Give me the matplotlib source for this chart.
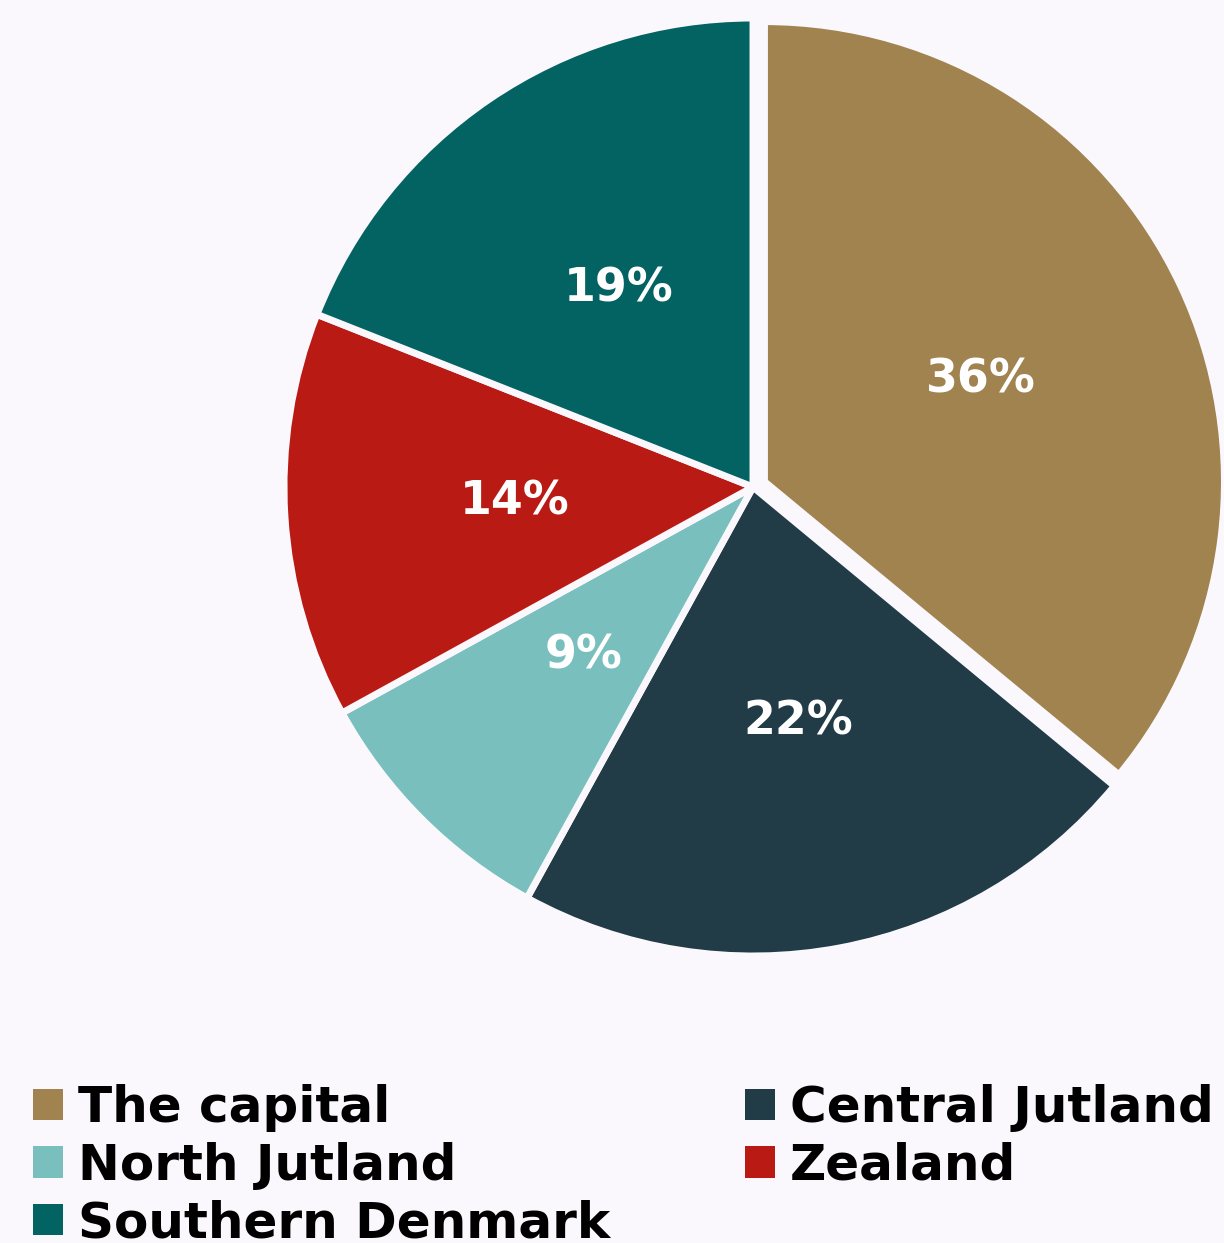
import matplotlib
matplotlib.use("Agg")
import matplotlib.pyplot as plt
from matplotlib.patches import Patch

# Share of respondents by region
regions = ["The capital", "Central Jutland", "North Jutland", "Zealand", "Southern Denmark"]
shares = [36, 22, 9, 14, 19]
colors = ["#a0834f", "#213b47", "#78bfbe", "#ba1a14", "#036363"]
explode = [0.027, 0, 0, 0, 0]

BG = "#fbf8fd"
W, H = 1224, 1243
DPI = 100

plt.rcParams["font.family"] = ["DejaVu Sans"]
fig = plt.figure(figsize=(W / DPI, H / DPI), dpi=DPI, facecolor=BG)

# pie axes: centre at (753, 487) px, radius 469 px
cx, cy, R, half = 753, 487, 469, 500
ax = fig.add_axes([(cx - half) / W, 1 - (cy + half) / H, 2 * half / W, 2 * half / H])
ax.set_facecolor(BG)
wedges, texts, autotexts = ax.pie(
    shares,
    colors=colors,
    explode=explode,
    startangle=90,
    counterclock=False,
    autopct=lambda p: f"{p:.0f}%",
    pctdistance=0.51,
    wedgeprops=dict(edgecolor=BG, linewidth=5),
    textprops=dict(color="white", fontsize=33, fontweight="bold"),
)
# the pulled-out slice is drawn slightly smaller
wedges[0].set_radius(460 / R)
lim = half / R
ax.set_xlim(-lim, lim)
ax.set_ylim(-lim, lim)
ax.set_aspect("equal")
ax.axis("off")

# legend: two columns, filled row by row
order = [0, 2, 4, 1, 3]
handles = [Patch(facecolor=colors[i], edgecolor="none") for i in order]
labels = [regions[i] for i in order]
leg = fig.legend(
    handles, labels,
    ncol=2,
    loc="upper left",
    bbox_to_anchor=(33 / W, 1 - 1084 / H),
    frameon=False,
    prop=dict(size=36, weight="bold"),
    handlelength=0.6,
    handleheight=0.6,
    handletextpad=0.3,
    labelspacing=0.19,
    columnspacing=2.7,
    borderpad=0,
    borderaxespad=0,
)

fig.savefig("out.png", dpi=DPI, facecolor=BG)
